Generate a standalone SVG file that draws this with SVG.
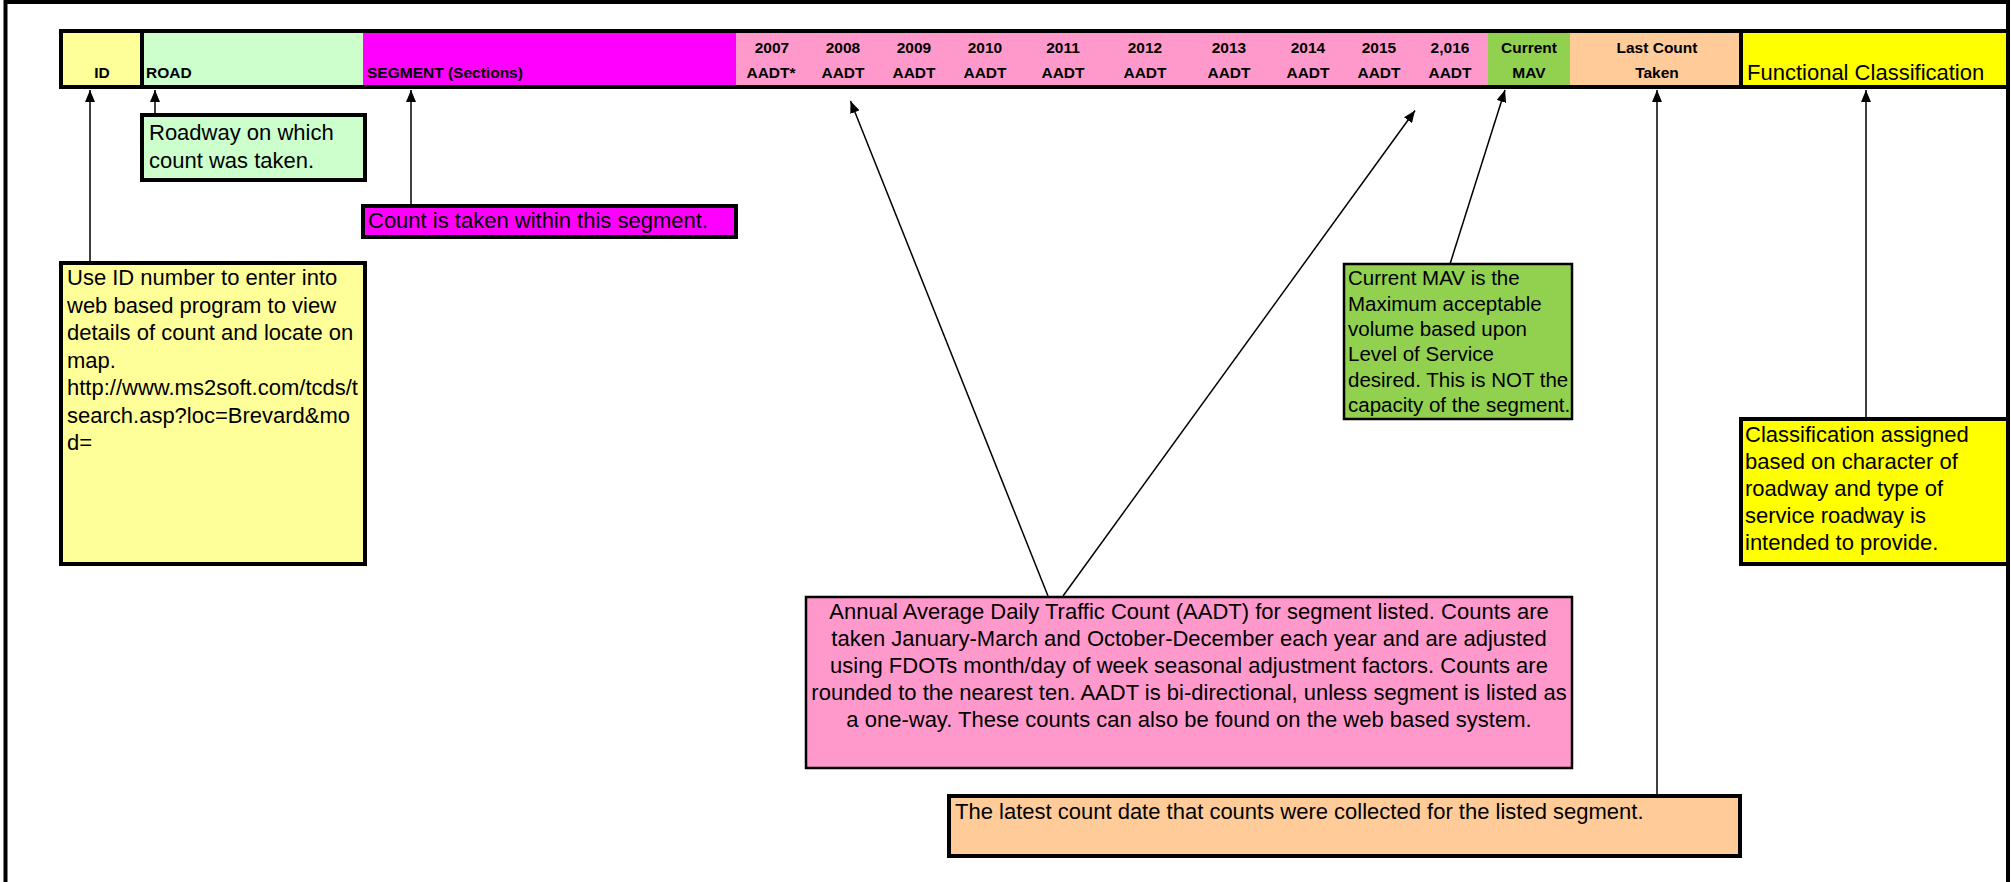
<svg xmlns="http://www.w3.org/2000/svg" width="2011" height="882" viewBox="0 0 2011 882">
<style>
.hb{font-family:"Liberation Sans",Arial,sans-serif;font-weight:bold;font-size:15.5px;fill:#000}
.hc{text-anchor:middle}
.nt{font-family:"Liberation Sans",Arial,sans-serif;font-size:22px;fill:#000}
.box{stroke:#000;stroke-width:4}
.box2{stroke:#000;stroke-width:2.5}
.con{stroke:#000;stroke-width:1.5;fill:none;marker-end:url(#ah)}
</style>
<defs>
<marker id="ah" markerWidth="13" markerHeight="10" refX="12" refY="5" orient="auto" markerUnits="userSpaceOnUse">
<path d="M0,0 L12,5 L0,10 z" fill="#000"/>
</marker>
</defs>
<rect x="0" y="0" width="2011" height="882" fill="#fff"/>
<path d="M5.5,882 V2 H2008 V882" fill="none" stroke="#000" stroke-width="4"/>

<g id="header">
<rect x="61" y="31" width="81" height="56" fill="#FFFF99"/>
<rect x="142" y="31" width="221" height="56" fill="#CCFFCC"/>
<rect x="363" y="31" width="373" height="56" fill="#FF00FF"/>
<rect x="736" y="31" width="752" height="56" fill="#FF99CC"/>
<rect x="1488" y="31" width="82" height="56" fill="#92D050"/>
<rect x="1570" y="31" width="171" height="56" fill="#FFCC99"/>
<rect x="1741" y="31" width="267" height="56" fill="#FFFF00"/>
<rect x="61" y="31" width="1947" height="56" fill="none" stroke="#000" stroke-width="4"/>
<line x1="142" y1="31" x2="142" y2="87" stroke="#000" stroke-width="4"/>
<line x1="1741" y1="31" x2="1741" y2="87" stroke="#000" stroke-width="4"/>
<text class="hb hc" x="102" y="78">ID</text>
<text class="hb" x="146" y="78">ROAD</text>
<text class="hb" x="367" y="78">SEGMENT (Sections)</text>
<g class="hb hc">
<text x="772" y="53">2007</text><text x="771" y="78">AADT*</text>
<text x="843" y="53">2008</text><text x="843" y="78">AADT</text>
<text x="914" y="53">2009</text><text x="914" y="78">AADT</text>
<text x="985" y="53">2010</text><text x="985" y="78">AADT</text>
<text x="1063" y="53">2011</text><text x="1063" y="78">AADT</text>
<text x="1145" y="53">2012</text><text x="1145" y="78">AADT</text>
<text x="1229" y="53">2013</text><text x="1229" y="78">AADT</text>
<text x="1308" y="53">2014</text><text x="1308" y="78">AADT</text>
<text x="1379" y="53">2015</text><text x="1379" y="78">AADT</text>
<text x="1450" y="53">2,016</text><text x="1450" y="78">AADT</text>
<text x="1529" y="53">Current</text><text x="1529" y="78">MAV</text>
<text x="1657" y="53">Last Count</text><text x="1657" y="78">Taken</text>
</g>
<text class="nt" x="1747" y="80">Functional Classification</text>
</g>

<g id="connectors">
<line class="con" x1="90" y1="263" x2="90" y2="90"/>
<line class="con" x1="155" y1="115" x2="155" y2="90"/>
<line class="con" x1="411" y1="205" x2="411" y2="90"/>
<line class="con" x1="1048" y1="596" x2="850.5" y2="101"/>
<line class="con" x1="1063" y1="596" x2="1415" y2="110.5"/>
<line class="con" x1="1450" y1="264" x2="1505" y2="90"/>
<line class="con" x1="1657" y1="795" x2="1657" y2="90"/>
<line class="con" x1="1866" y1="419" x2="1866" y2="90"/>
</g>

<g id="road-note">
<rect class="box" x="142" y="115" width="223" height="65" fill="#CCFFCC"/>
<text class="nt" x="149"><tspan x="149" y="140">Roadway on which</tspan><tspan x="149" y="168">count was taken.</tspan></text>
</g>

<g id="segment-note">
<rect class="box" x="363" y="206" width="373" height="31" fill="#FF00FF"/>
<text class="nt" x="368" y="228">Count is taken within this segment.</text>
</g>

<g id="id-note">
<rect class="box" x="61" y="263" width="304" height="301" fill="#FFFF99"/>
<text class="nt"><tspan x="67" y="285">Use ID number to enter into</tspan><tspan x="67" y="312.5">web based program to view</tspan><tspan x="67" y="340">details of count and locate on</tspan><tspan x="67" y="367.5">map.</tspan><tspan x="67" y="395">http://www.ms2soft.com/tcds/t</tspan><tspan x="67" y="422.5">search.asp?loc=Brevard&amp;mo</tspan><tspan x="67" y="450">d=</tspan></text>
</g>

<g id="mav-note">
<rect class="box2" x="1344" y="264" width="228" height="155" fill="#92D050"/>
<text class="nt" style="font-size:20.5px"><tspan x="1348" y="285">Current MAV is the</tspan><tspan x="1348" y="310.5">Maximum acceptable</tspan><tspan x="1348" y="336">volume based upon</tspan><tspan x="1348" y="361">Level of Service</tspan><tspan x="1348" y="386.5">desired. This is NOT the</tspan><tspan x="1348" y="412">capacity of the segment.</tspan></text>
</g>

<g id="func-note">
<rect class="box" x="1741" y="419" width="267" height="145" fill="#FFFF00"/>
<text class="nt"><tspan x="1745" y="442">Classification assigned</tspan><tspan x="1745" y="469">based on character of</tspan><tspan x="1745" y="496">roadway and type of</tspan><tspan x="1745" y="523">service roadway is</tspan><tspan x="1745" y="550">intended to provide.</tspan></text>
</g>

<g id="aadt-note">
<rect class="box2" x="806" y="597" width="766" height="171" fill="#FF99CC"/>
<text class="nt" text-anchor="middle"><tspan x="1189" y="619">Annual Average Daily Traffic Count (AADT) for segment listed. Counts are</tspan><tspan x="1189" y="646">taken January-March and October-December each year and are adjusted</tspan><tspan x="1189" y="673">using FDOTs month/day of week seasonal adjustment factors. Counts are</tspan><tspan x="1189" y="700">rounded to the nearest ten. AADT is bi-directional, unless segment is listed as</tspan><tspan x="1189" y="727">a one-way. These counts can also be found on the web based system.</tspan></text>
</g>

<g id="lastcount-note">
<rect class="box" x="949" y="796" width="791" height="60" fill="#FFCC99"/>
<text class="nt" x="955" y="819">The latest count date that counts were collected for the listed segment.</text>
</g>
</svg>
